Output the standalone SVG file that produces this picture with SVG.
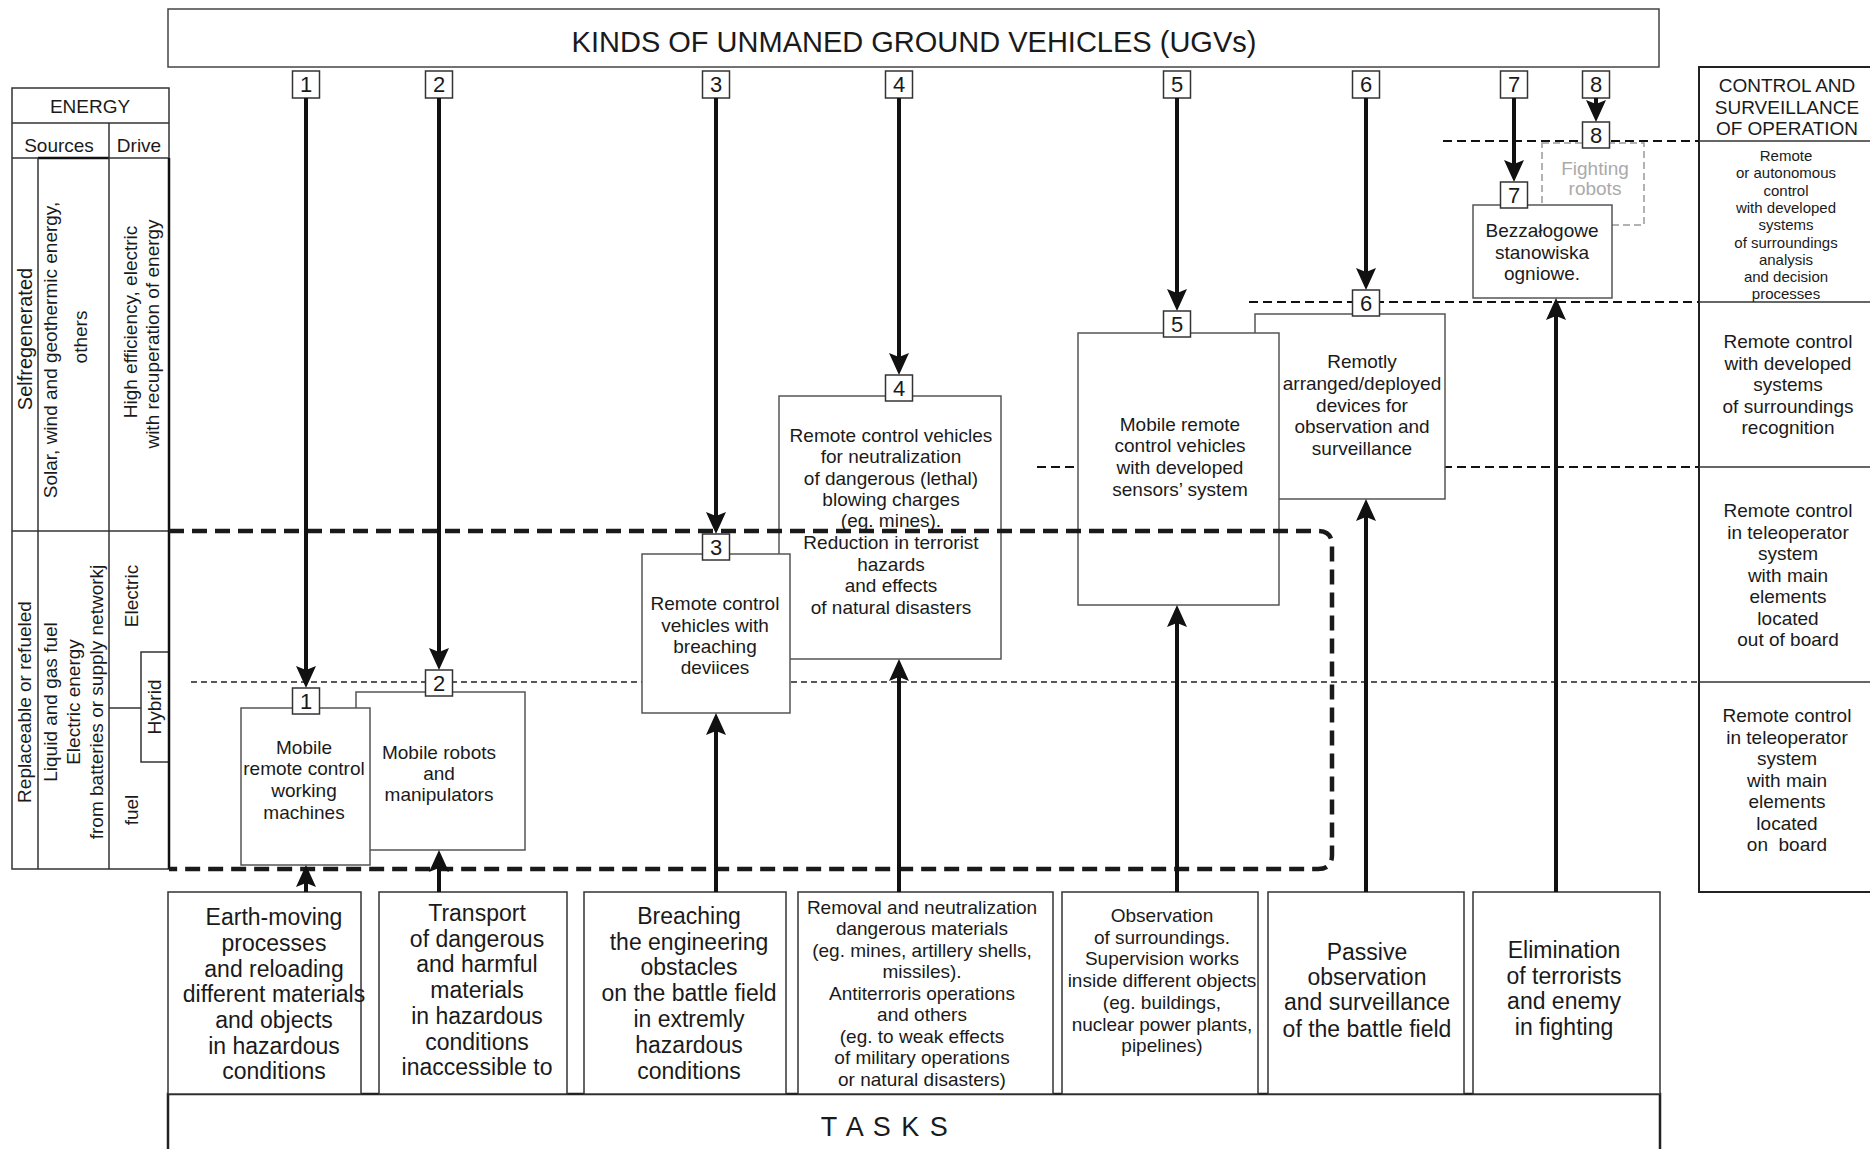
<svg xmlns="http://www.w3.org/2000/svg" width="1870" height="1149" viewBox="0 0 1870 1149">
<defs>
<style>
text{font-family:"Liberation Sans",Arial,sans-serif;fill:#1a1a1a;text-anchor:middle}
.t19{font-size:19px}
.t15{font-size:15px}
.t23{font-size:23px}
.lab{font-size:22px}
.box{fill:#fff;stroke:#555;stroke-width:1.5}
.lbox{fill:#fff;stroke:#333;stroke-width:1.5}
.tl{fill:none;stroke:#333;stroke-width:1.5}
.thin{stroke:#222;stroke-width:1.3;stroke-dasharray:6 4;fill:none}
.mid{stroke:#111;stroke-width:2;stroke-dasharray:9 5;fill:none}
.bold{stroke:#1a1a1a;stroke-width:4.5;stroke-dasharray:15 8;fill:none}
.arr{stroke:#111;stroke-width:4;fill:none;marker-end:url(#ah)}
</style>
<marker id="ah" markerUnits="userSpaceOnUse" markerWidth="24" markerHeight="22" refX="14" refY="10" orient="auto">
<path d="M0,0 L22,10 L0,20 L4,10 z" fill="#111"/>
</marker>
</defs>
<rect width="1870" height="1149" fill="#fff"/>

<g id="energy-table">
<rect class="tl" x="12" y="88" width="157" height="781"/>
<line class="tl" x1="12" y1="123" x2="169" y2="123"/>
<line class="tl" x1="12" y1="158" x2="169" y2="158"/>
<line x1="38" y1="158" x2="109" y2="158" stroke="#111" stroke-width="2.5"/>
<line class="tl" x1="109" y1="123" x2="109" y2="869"/>
<line class="tl" x1="38" y1="158" x2="38" y2="869"/>
<line class="tl" x1="12" y1="531" x2="169" y2="531"/>
<line class="tl" x1="109" y1="708" x2="141" y2="708"/>
<rect class="tl" x="141" y="652" width="28" height="110"/>
<line x1="169" y1="158" x2="169" y2="869" stroke="#111" stroke-width="2.5"/>
<text class="t19" x="90" y="113">ENERGY</text>
<text class="t19" x="59" y="152">Sources</text>
<text class="t19" x="139" y="152">Drive</text>
<text class="t19" style="font-size:20px" transform="translate(32,339) rotate(-90)">Selfregenerated</text>
<text class="t19" transform="translate(57,350) rotate(-90)">Solar, wind and geothermic energy,</text>
<text class="t19" transform="translate(87,337) rotate(-90)">others</text>
<text class="t19" transform="translate(137,322) rotate(-90)">High efficiency, electric</text>
<text class="t19" transform="translate(159,334) rotate(-90)">with recuperation of energy</text>
<text class="t19" transform="translate(31,702) rotate(-90)">Replaceable or refueled</text>
<text class="t19" transform="translate(57,702) rotate(-90)">Liquid and gas fuel</text>
<text class="t19" transform="translate(80,702) rotate(-90)">Electric energy</text>
<text class="t19" transform="translate(103,702) rotate(-90)">from batteries or supply networkj</text>
<text class="t19" transform="translate(138,596) rotate(-90)">Electric</text>
<text class="t19" transform="translate(161,707) rotate(-90)">Hybrid</text>
<text class="t19" transform="translate(138,810) rotate(-90)">fuel</text>
</g>

<g id="control-table">
<path d="M1870,67 H1699 V892 H1870" fill="none" stroke="#222" stroke-width="2"/>
<line class="tl" x1="1699" y1="141" x2="1870" y2="141"/>
<line class="tl" x1="1699" y1="302" x2="1870" y2="302"/>
<line class="tl" x1="1699" y1="467" x2="1870" y2="467"/>
<line class="tl" x1="1699" y1="682" x2="1870" y2="682"/>
<text class="t19" x="1787" y="92">CONTROL AND</text>
<text class="t19" x="1787" y="114">SURVEILLANCE</text>
<text class="t19" x="1787" y="135">OF OPERATION</text>
<text class="t15"><tspan x="1786" y="161">Remote</tspan><tspan x="1786" y="178.3">or autonomous</tspan><tspan x="1786" y="195.6">control</tspan><tspan x="1786" y="212.9">with developed</tspan><tspan x="1786" y="230.2">systems</tspan><tspan x="1786" y="247.5">of surroundings</tspan><tspan x="1786" y="264.8">analysis</tspan><tspan x="1786" y="282.1">and decision</tspan><tspan x="1786" y="299.4">processes</tspan></text>
<text class="t19"><tspan x="1788" y="348">Remote control</tspan><tspan x="1788" y="369.5">with developed</tspan><tspan x="1788" y="391">systems</tspan><tspan x="1788" y="412.5">of surroundings</tspan><tspan x="1788" y="434">recognition</tspan></text>
<text class="t19"><tspan x="1788" y="517">Remote control</tspan><tspan x="1788" y="538.5">in teleoperator</tspan><tspan x="1788" y="560">system</tspan><tspan x="1788" y="581.5">with main</tspan><tspan x="1788" y="603">elements</tspan><tspan x="1788" y="624.5">located</tspan><tspan x="1788" y="646">out of board</tspan></text>
<text class="t19"><tspan x="1787" y="722">Remote control</tspan><tspan x="1787" y="743.5">in teleoperator</tspan><tspan x="1787" y="765">system</tspan><tspan x="1787" y="786.5">with main</tspan><tspan x="1787" y="808">elements</tspan><tspan x="1787" y="829.5">located</tspan><tspan x="1787" y="851" xml:space="preserve">on  board</tspan></text>
</g>

<g id="header">
<rect x="168" y="9" width="1491" height="58" fill="#fff" stroke="#444" stroke-width="1.5"/>
<text x="914" y="52" style="font-size:29px">KINDS OF UNMANED GROUND VEHICLES (UGVs)</text>
</g>

<g id="levels">
<line class="thin" x1="191" y1="682" x2="1699" y2="682"/>
<line class="mid" x1="1037" y1="467" x2="1699" y2="467"/>
<line class="mid" x1="1249" y1="302" x2="1699" y2="302"/>
<line class="mid" x1="1443" y1="141" x2="1699" y2="141"/>
</g>

<g id="tasks">
<path d="M168,1149 V1094 H1660 V1149" fill="none" stroke="#222" stroke-width="2.5"/>
<text x="885" y="1136" style="font-size:27px;letter-spacing:1.5px" xml:space="preserve">T A S K S</text>
<g id="task1"><rect class="lbox" x="168" y="892" width="193" height="202"/>
<text class="t23"><tspan x="274" y="925">Earth-moving</tspan><tspan x="274" y="951">processes</tspan><tspan x="274" y="977">and reloading</tspan><tspan x="274" y="1002">different materials</tspan><tspan x="274" y="1028">and objects</tspan><tspan x="274" y="1054">in hazardous</tspan><tspan x="274" y="1079">conditions</tspan></text></g>
<g id="task2"><rect class="lbox" x="379" y="892" width="188" height="202"/>
<text class="t23"><tspan x="477" y="921">Transport</tspan><tspan x="477" y="947">of dangerous</tspan><tspan x="477" y="972">and harmful</tspan><tspan x="477" y="998">materials</tspan><tspan x="477" y="1024">in hazardous</tspan><tspan x="477" y="1050">conditions</tspan><tspan x="477" y="1075">inaccessible to</tspan></text></g>
<g id="task3"><rect class="lbox" x="584" y="892" width="202" height="202"/>
<text class="t23"><tspan x="689" y="924">Breaching</tspan><tspan x="689" y="950">the engineering</tspan><tspan x="689" y="975">obstacles</tspan><tspan x="689" y="1001">on the battle field</tspan><tspan x="689" y="1027">in extremly</tspan><tspan x="689" y="1053">hazardous</tspan><tspan x="689" y="1079">conditions</tspan></text></g>
<g id="task4"><rect class="lbox" x="798" y="892" width="255" height="202"/>
<text class="t19"><tspan x="922" y="914">Removal and neutralization</tspan><tspan x="922" y="935">dangerous materials</tspan><tspan x="922" y="957">(eg. mines, artillery shells,</tspan><tspan x="922" y="978">missiles).</tspan><tspan x="922" y="1000">Antiterroris operations</tspan><tspan x="922" y="1021">and others</tspan><tspan x="922" y="1043">(eg. to weak effects</tspan><tspan x="922" y="1064">of military operations</tspan><tspan x="922" y="1086">or natural disasters)</tspan></text></g>
<g id="task5"><rect class="lbox" x="1062" y="892" width="196" height="202"/>
<text class="t19"><tspan x="1162" y="922">Observation</tspan><tspan x="1162" y="944">of surroundings.</tspan><tspan x="1162" y="965">Supervision works</tspan><tspan x="1162" y="987">inside different objects</tspan><tspan x="1162" y="1009">(eg. buildings,</tspan><tspan x="1162" y="1031">nuclear power plants,</tspan><tspan x="1162" y="1052">pipelines)</tspan></text></g>
<g id="task6"><rect class="lbox" x="1268" y="892" width="196" height="202"/>
<text class="t23"><tspan x="1367" y="960">Passive</tspan><tspan x="1367" y="985">observation</tspan><tspan x="1367" y="1010">and surveillance</tspan><tspan x="1367" y="1037">of the battle field</tspan></text></g>
<g id="task7"><rect class="lbox" x="1473" y="892" width="187" height="202"/>
<text class="t23"><tspan x="1564" y="958">Elimination</tspan><tspan x="1564" y="984">of terrorists</tspan><tspan x="1564" y="1009">and enemy</tspan><tspan x="1564" y="1035">in fighting</tspan></text></g>
</g>

<g id="top-labels">
<rect class="lbox" x="292.5" y="71" width="27" height="27"/><text class="lab" x="306" y="92">1</text>
<rect class="lbox" x="425.5" y="71" width="27" height="27"/><text class="lab" x="439" y="92">2</text>
<rect class="lbox" x="702.5" y="71" width="27" height="27"/><text class="lab" x="716" y="92">3</text>
<rect class="lbox" x="885.5" y="71" width="27" height="27"/><text class="lab" x="899" y="92">4</text>
<rect class="lbox" x="1163.5" y="71" width="27" height="27"/><text class="lab" x="1177" y="92">5</text>
<rect class="lbox" x="1352.5" y="71" width="27" height="27"/><text class="lab" x="1366" y="92">6</text>
<rect class="lbox" x="1500.5" y="71" width="27" height="27"/><text class="lab" x="1514" y="92">7</text>
<rect class="lbox" x="1582.5" y="71" width="27" height="27"/><text class="lab" x="1596" y="92">8</text>
</g>

<g id="node8">
<rect x="1542" y="143" width="102" height="82" fill="none" stroke="#999" stroke-width="1.5" stroke-dasharray="7 4"/>
<text class="t19" style="fill:#aaa"><tspan x="1595" y="175">Fighting</tspan><tspan x="1595" y="195">robots</tspan></text>
</g>
<g id="node7">
<rect class="box" x="1473" y="205" width="139" height="93"/>
<text class="t19"><tspan x="1542" y="237">Bezzałogowe</tspan><tspan x="1542" y="259">stanowiska</tspan><tspan x="1542" y="280">ogniowe.</tspan></text>
</g>
<g id="node6">
<rect class="box" x="1255" y="314" width="190" height="185"/>
<text class="t19"><tspan x="1362" y="368">Remotly</tspan><tspan x="1362" y="390">arranged/deployed</tspan><tspan x="1362" y="412">devices for</tspan><tspan x="1362" y="433">observation and</tspan><tspan x="1362" y="455">surveillance</tspan></text>
</g>
<g id="node5">
<rect class="box" x="1078" y="333" width="201" height="272"/>
<text class="t19"><tspan x="1180" y="431">Mobile remote</tspan><tspan x="1180" y="452">control vehicles</tspan><tspan x="1180" y="474">with developed</tspan><tspan x="1180" y="496">sensors’ system</tspan></text>
</g>
<g id="node4">
<rect class="box" x="779" y="396" width="222" height="263"/>
<text class="t19"><tspan x="891" y="442">Remote control vehicles</tspan><tspan x="891" y="463">for neutralization</tspan><tspan x="891" y="485">of dangerous (lethal)</tspan><tspan x="891" y="506">blowing charges</tspan><tspan x="891" y="527">(eg. mines).</tspan><tspan x="891" y="549">Reduction in terrorist</tspan><tspan x="891" y="571">hazards</tspan><tspan x="891" y="592">and effects</tspan><tspan x="891" y="614">of natural disasters</tspan></text>
</g>
<g id="node3">
<rect class="box" x="642" y="554" width="148" height="159"/>
<text class="t19"><tspan x="715" y="610">Remote control</tspan><tspan x="715" y="632">vehicles with</tspan><tspan x="715" y="653">breaching</tspan><tspan x="715" y="674">deviices</tspan></text>
</g>
<g id="node2">
<rect class="box" x="356" y="692" width="169" height="158"/>
<text class="t19"><tspan x="439" y="759">Mobile robots</tspan><tspan x="439" y="780">and</tspan><tspan x="439" y="801">manipulators</tspan></text>
</g>
<g id="node1">
<rect class="box" x="241" y="708" width="129" height="157"/>
<text class="t19"><tspan x="304" y="754">Mobile</tspan><tspan x="304" y="775">remote control</tspan><tspan x="304" y="797">working</tspan><tspan x="304" y="819">machines</tspan></text>
</g>

<g id="zone">
<path class="bold" d="M169,531 H1318 Q1332,531 1332,545 V855 Q1332,869 1318,869 H169"/>
</g>

<g id="connectors">
<line class="arr" x1="306" y1="98" x2="306" y2="680"/>
<line class="arr" x1="439" y1="98" x2="439" y2="662"/>
<line class="arr" x1="716" y1="98" x2="716" y2="526"/>
<line class="arr" x1="899" y1="98" x2="899" y2="367"/>
<line class="arr" x1="1177" y1="98" x2="1177" y2="303"/>
<line class="arr" x1="1366" y1="98" x2="1366" y2="282"/>
<line class="arr" x1="1514" y1="98" x2="1514" y2="174"/>
<line class="arr" x1="1596" y1="98" x2="1596" y2="114"/>
<line class="arr" x1="306" y1="892" x2="306" y2="873"/>
<line class="arr" x1="439" y1="892" x2="439" y2="858"/>
<line class="arr" x1="716" y1="892" x2="716" y2="721"/>
<line class="arr" x1="899" y1="892" x2="899" y2="667"/>
<line class="arr" x1="1177" y1="892" x2="1177" y2="613"/>
<line class="arr" x1="1366" y1="892" x2="1366" y2="507"/>
<line class="arr" x1="1556" y1="892" x2="1556" y2="306"/>
</g>

<g id="bottom-labels">
<rect class="lbox" x="292.5" y="688" width="27" height="26"/><text class="lab" x="306" y="709">1</text>
<rect class="lbox" x="425.5" y="670" width="27" height="26"/><text class="lab" x="439" y="691">2</text>
<rect class="lbox" x="702.5" y="534" width="27" height="26"/><text class="lab" x="716" y="555">3</text>
<rect class="lbox" x="885.5" y="375" width="27" height="26"/><text class="lab" x="899" y="396">4</text>
<rect class="lbox" x="1163.5" y="311" width="27" height="26"/><text class="lab" x="1177" y="332">5</text>
<rect class="lbox" x="1352.5" y="290" width="27" height="26"/><text class="lab" x="1366" y="311">6</text>
<rect class="lbox" x="1500.5" y="182" width="27" height="26"/><text class="lab" x="1514" y="203">7</text>
<rect class="lbox" x="1582.5" y="122" width="27" height="26"/><text class="lab" x="1596" y="143">8</text>
</g>
</svg>
